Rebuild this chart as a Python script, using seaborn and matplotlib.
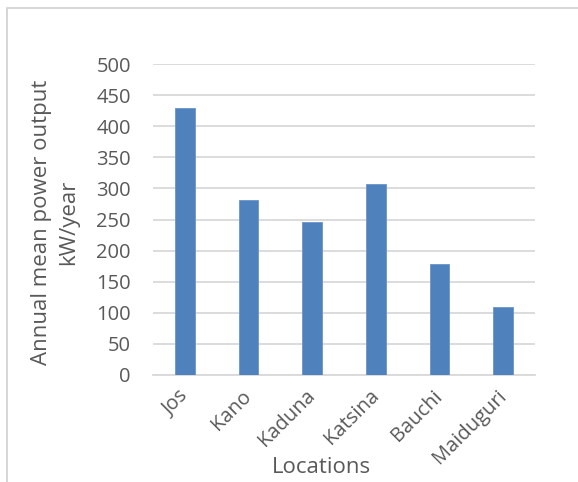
import matplotlib
matplotlib.use("Agg")
import matplotlib.pyplot as plt
import seaborn as sns
import pandas as pd
from matplotlib.patches import Rectangle

locations = ["Jos", "Kano", "Kaduna", "Katsina", "Bauchi", "Maiduguri"]
power_output = [430, 281, 246, 307, 178, 110]
y_ticks = [0, 50, 100, 150, 200, 250, 300, 350, 400, 450, 500]

df = pd.DataFrame({"Locations": locations, "Power": power_output})

sns.set_style("white")
plt.rcParams["font.family"] = ["Open Sans", "DejaVu Sans"]

text_grey = "#595959"
bar_blue = "#4f81bd"

fig = plt.figure(figsize=(5.78, 4.82), dpi=100)
ax = fig.add_axes([0.2647, 0.222, 0.6609, 0.6452])

sns.barplot(data=df, x="Locations", y="Power", color=bar_blue, width=0.31,
            saturation=1, edgecolor="#6a95cc", linewidth=0.6, ax=ax, zorder=3)

ax.set_ylim(0, 500)
ax.set_xlim(-0.5, len(locations) - 0.5)
ax.set_yticks(y_ticks)
ax.yaxis.grid(True, color="#d9d9d9", linewidth=1.3, zorder=0)
ax.xaxis.grid(False)
for s in ["top", "right", "left"]:
    ax.spines[s].set_visible(False)
ax.spines["bottom"].set_color("#d9d9d9")
ax.spines["bottom"].set_linewidth(1.3)

ax.tick_params(axis="y", length=0, pad=16, labelsize=14.5, labelcolor=text_grey)
ax.tick_params(axis="x", length=0, pad=13, labelsize=14.5, labelcolor=text_grey)
ax.set_xticks(range(len(locations)))
ax.set_xticklabels(locations, rotation=45, ha="right", va="center",
                   rotation_mode="anchor")

ax.set_ylabel("Annual mean power output\nkW/year", fontsize=16, color=text_grey,
              linespacing=1.35)
ax.yaxis.set_label_coords(-0.194, 0.49)
ax.set_xlabel("Locations", fontsize=16, color=text_grey)
ax.xaxis.label.set_va("center")
ax.xaxis.set_label_coords(0.442, -0.296)

# chart area border
fig.patches.append(Rectangle((7 / 578, -0.05), 1.2, 1 - 8 / 482 + 0.05,
                             transform=fig.transFigure, fill=False,
                             edgecolor="#d0d0d0", linewidth=1.2))

fig.savefig("out.png", dpi=100)
